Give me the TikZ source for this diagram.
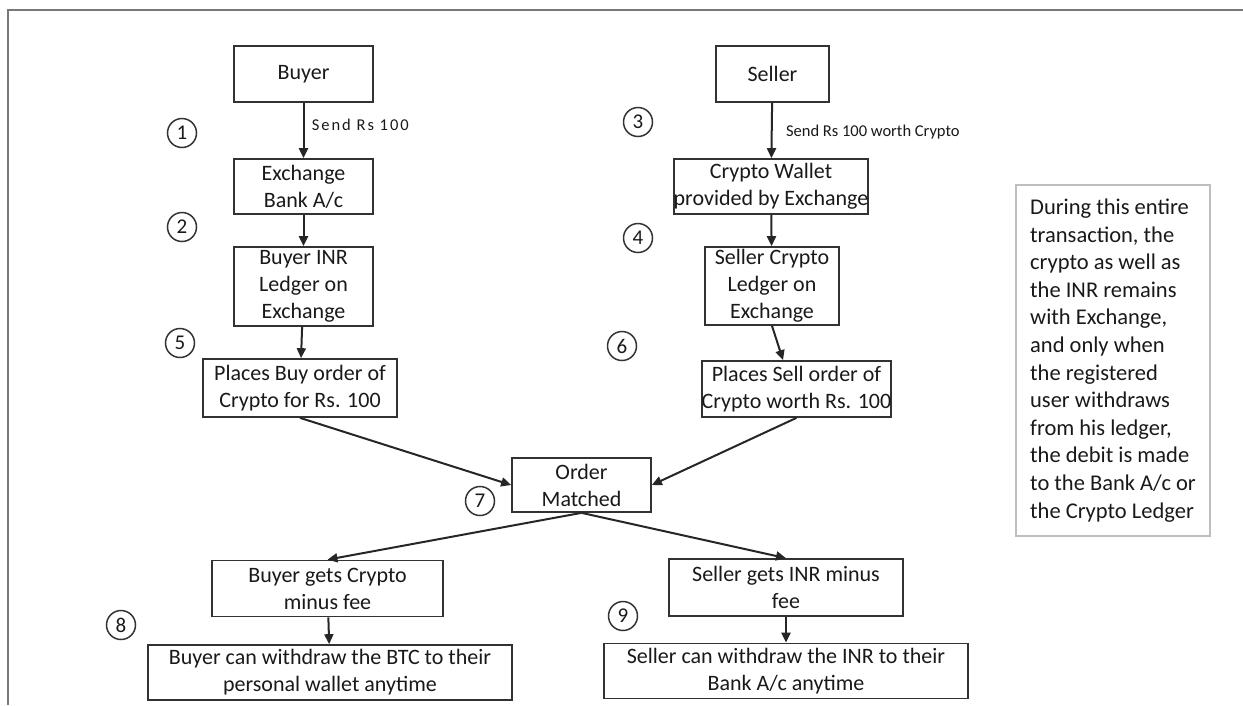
\documentclass[tikz,border=0pt]{standalone}
\usepackage{fontspec}
\setmainfont{Carlito}
\usetikzlibrary{arrows.meta}
\definecolor{boxgray}{RGB}{50,50,50}
\definecolor{txtgray}{RGB}{25,25,25}
\definecolor{framegray}{RGB}{120,120,120}
\definecolor{notegray}{RGB}{190,190,190}

\begin{document}
\begin{tikzpicture}[x=1pt,y=-1pt,
    stage/.style={draw=boxgray,line width=1.7pt,align=center,inner sep=0pt,
      text=txtgray,font=\fontsize{22}{27}\selectfont},
    flow/.style={-{Triangle[length=10pt,width=9pt]},line width=2pt,black!85},
    sendlbl/.style={anchor=west,text=txtgray,font=\fontsize{16.5}{20}\selectfont},
    numb/.style={circle,draw=black!80,line width=1.5pt,minimum size=29pt,
      inner sep=0pt,text=txtgray,font=\fontsize{21}{21}\selectfont}]
  \useasboundingbox (0,0) rectangle (1243,705);
  \draw[framegray,line width=1.5pt] (1243,10) -- (8,10) -- (8,705);

  % buyer column
  \node[stage,minimum width=139pt,minimum height=56pt] (buyer) at (303.5,74) {Buyer};
  \node[stage,minimum width=139pt,minimum height=55pt] (bank) at (303.5,186.5) {Exchange\\Bank A/c};
  \node[stage,minimum width=139pt,minimum height=79pt] (inrledger) at (303.5,286.5) {Buyer INR\\Ledger on\\Exchange};
  \node[stage,minimum width=194pt,minimum height=58pt] (buyorder) at (300,388) {Places Buy order of\\Crypto for Rs. 100};

  % seller column
  \node[stage,minimum width=113pt,minimum height=56pt] (seller) at (772.5,74) {Seller};
  \node[stage,minimum width=188pt,minimum height=55pt] (wallet) at (771,186.5) {Crypto Wallet\\provided by Exchange};
  \node[stage,minimum width=134pt,minimum height=78pt] (cryptoledger) at (772,286) {Seller Crypto\\Ledger on\\Exchange};
  \node[stage,minimum width=177pt,minimum height=56pt] (sellorder) at (796.5,389) {Places Sell order of\\Crypto worth Rs. 100};

  % matching and payout
  \node[stage,minimum width=139pt,minimum height=54pt] (matched) at (581.5,485) {Order\\Matched};
  \node[stage,minimum width=231pt,minimum height=56pt] (buyergets) at (327.5,588.5) {Buyer gets Crypto\\minus fee};
  \node[stage,minimum width=234pt,minimum height=57pt] (sellergets) at (786,587.5) {Seller gets INR minus\\fee};
  \node[stage,minimum width=364pt,minimum height=55pt] (buyerwd) at (330,672.5) {Buyer can withdraw the BTC to their\\personal wallet anytime};
  \node[stage,minimum width=364pt,minimum height=55pt] (sellerwd) at (786,671) {Seller can withdraw the INR to their\\Bank A/c anytime};

  % side note
  \node[draw=notegray,line width=1.2pt,minimum width=194pt,minimum height=351pt,
    align=left,inner sep=0pt,text=txtgray,font=\fontsize{22.5}{27.6}\selectfont]
    (note) at (1113,360.5) {During this entire\\transaction, the\\crypto as well as\\the INR remains\\with Exchange,\\and only when\\the registered\\user withdraws\\from his ledger,\\the debit is made\\to the Bank A/c or\\the Crypto Ledger};

  % arrows
  \draw[flow] (buyer) -- node[sendlbl,pos=0.4,xshift=4pt] {\addfontfeature{LetterSpace=12}Send Rs 100} (bank);
  \draw[flow] (bank) -- (inrledger);
  \draw[flow] (inrledger) -- (buyorder);
  \draw[flow] (seller) -- node[sendlbl,pos=0.52,xshift=10pt] {Send Rs 100 worth Crypto} (wallet);
  \draw[flow] (wallet) -- (cryptoledger);
  \draw[flow] (cryptoledger.south) -- (sellorder.115);
  \draw[flow] (buyorder.south) -- (matched.west);
  \draw[flow] (sellorder.south) -- (matched.east);
  \draw[flow] (matched.south) -- (buyergets.north);
  \draw[flow] (matched.south) -- (sellergets.north);
  \draw[flow] (buyergets) -- (buyerwd);
  \draw[flow] (sellergets) -- (sellerwd);

  % step numbers
  \node[numb] (n1) at (182,133) {1};
  \node[numb] (n2) at (182,227) {2};
  \node[numb] (n3) at (638,122) {3};
  \node[numb] (n4) at (638,238) {4};
  \node[numb] (n5) at (180,343) {5};
  \node[numb] (n6) at (622,346) {6};
  \node[numb] (n7) at (480,501) {7};
  \node[numb] (n8) at (121,625) {8};
  \node[numb] (n9) at (623,616) {9};
\end{tikzpicture}
\end{document}
